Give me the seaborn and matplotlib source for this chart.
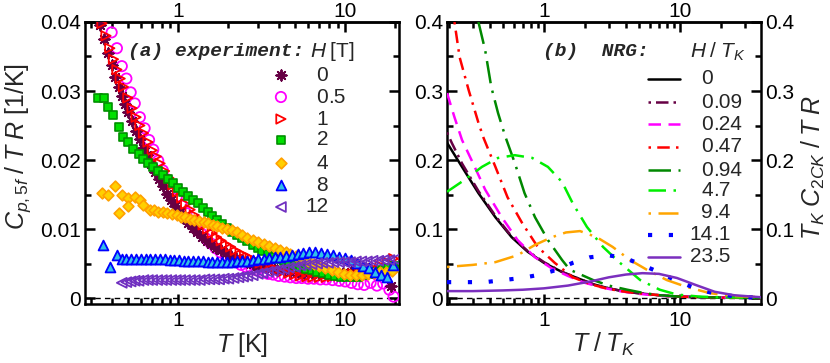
import matplotlib
matplotlib.use('Agg')
import matplotlib.pyplot as plt
import matplotlib.ticker as mticker
import seaborn as sns

# ---- experiment: C_p,5f / T R [1/K] vs T [K], one list pair per field H [T]
T_h0 = [0.34, 0.36, 0.38, 0.40, 0.42, 0.44, 0.46, 0.48, 0.50, 0.53, 0.56, 0.59, 0.62, 0.65, 0.69, 0.73,
        0.77, 0.81, 0.86, 0.91, 0.96, 1.02, 1.08, 1.15, 1.22, 1.30, 1.39, 1.48, 1.58, 1.69, 1.81, 1.94,
        2.08, 2.23, 2.40, 2.6, 2.8, 3.0, 3.3, 3.6, 3.9, 4.3, 4.7, 5.2, 5.7, 6.3, 7.0, 7.8, 8.7, 9.7,
        10.8, 12.0, 13.4, 15.0, 16.8, 18.8]
C_h0 = [0.0395, 0.0375, 0.0355, 0.0337, 0.0321, 0.0306, 0.0293, 0.0281, 0.0270, 0.0256, 0.0242, 0.0230,
        0.0218, 0.0207, 0.0194, 0.0182, 0.0172, 0.0162, 0.0151, 0.0142, 0.0133, 0.0124, 0.0116, 0.0108,
        0.0101, 0.0095, 0.0088, 0.0083, 0.0078, 0.0073, 0.0069, 0.0065, 0.0061, 0.0058, 0.0055, 0.0052,
        0.0049, 0.0047, 0.0045, 0.0043, 0.0041, 0.0040, 0.0038, 0.0037, 0.0036, 0.0036, 0.0035, 0.0035,
        0.0036, 0.0036, 0.0037, 0.0038, 0.0039, 0.0040, 0.0032, 0.0018]

T_h05 = [0.40, 0.43, 0.46, 0.49, 0.52, 0.55, 0.59, 0.63, 0.67, 0.71, 0.76, 0.81, 0.86, 0.92, 0.98, 1.05,
         1.12, 1.2, 1.28, 1.37, 1.47, 1.57, 1.68, 1.8, 1.93, 2.07, 2.22, 2.38, 2.55, 2.75, 2.95, 3.2,
         3.45, 3.7, 4.0, 4.35, 4.7, 5.1, 5.5, 6.0, 6.5, 7.1, 7.7, 8.4, 9.2, 10.0, 10.9, 11.9, 13.0,
         14.2, 15.5, 16.9, 18.4, 19.5]
C_h05 = [0.0385, 0.0362, 0.0336, 0.0318, 0.0298, 0.0282, 0.0262, 0.0246, 0.0229, 0.0215, 0.0199, 0.0185,
         0.0172, 0.0158, 0.0146, 0.0134, 0.0123, 0.0112, 0.0103, 0.0094, 0.0086, 0.0079, 0.0072, 0.0066,
         0.0061, 0.0056, 0.0052, 0.0048, 0.0045, 0.0042, 0.0040, 0.0037, 0.0035, 0.0034, 0.0032, 0.0031,
         0.0030, 0.0029, 0.0029, 0.0028, 0.0028, 0.0027, 0.0027, 0.0026, 0.0025, 0.0024, 0.0022, 0.0020,
         0.0019, 0.0022, 0.0018, 0.0021, 0.0012, 0.0002]

T_h1 = [0.35, 0.37, 0.39, 0.41, 0.43, 0.45, 0.47, 0.50, 0.53, 0.56, 0.59, 0.62, 0.66, 0.70, 0.74, 0.78,
        0.83, 0.88, 0.93, 0.99, 1.05, 1.11, 1.18, 1.25, 1.33, 1.41, 1.50, 1.60, 1.70, 1.81, 1.93, 2.06,
        2.2, 2.35, 2.5, 2.7, 2.9, 3.1, 3.35, 3.6, 3.9, 4.2, 4.6, 5.0, 5.4, 5.9, 6.4, 7.0, 7.7, 8.4,
        9.2, 10.1, 11.1, 12.2, 13.4, 14.7, 16.2, 17.8, 19.5]
C_h1 = [0.0398, 0.0380, 0.0362, 0.0346, 0.0331, 0.0318, 0.0306, 0.0290, 0.0275, 0.0262, 0.0250, 0.0239,
        0.0226, 0.0214, 0.0205, 0.0195, 0.0184, 0.0174, 0.0164, 0.0154, 0.0145, 0.0136, 0.0128, 0.0120,
        0.0113, 0.0106, 0.0100, 0.0094, 0.0088, 0.0083, 0.0078, 0.0074, 0.0069, 0.0065, 0.0062, 0.0058,
        0.0054, 0.0051, 0.0047, 0.0044, 0.0041, 0.0038, 0.0036, 0.0034, 0.0032, 0.0031, 0.0030, 0.0030,
        0.0030, 0.0031, 0.0032, 0.0033, 0.0035, 0.0037, 0.0040, 0.0043, 0.0047, 0.0052, 0.0057]

T_h2 = [0.33, 0.36, 0.38, 0.41, 0.44, 0.47, 0.50, 0.54, 0.58, 0.62, 0.66, 0.71, 0.76, 0.81, 0.87, 0.93,
        1.0, 1.07, 1.14, 1.22, 1.31, 1.40, 1.50, 1.60, 1.71, 1.83, 1.96, 2.1, 2.25, 2.4, 2.6, 2.8, 3.0,
        3.2, 3.45, 3.7, 4.0, 4.3, 4.6, 5.0, 5.4, 5.8, 6.3, 6.8, 7.4, 8.0, 8.7, 9.4, 10.2, 11.1, 12.0,
        13.0, 14.1, 15.3, 16.6, 18.0, 19.5]
C_h2 = [0.0290, 0.0290, 0.0277, 0.0265, 0.0248, 0.0233, 0.0226, 0.0216, 0.0208, 0.0202, 0.0196, 0.0190,
        0.0184, 0.0178, 0.0172, 0.0166, 0.0160, 0.0154, 0.0148, 0.0142, 0.0137, 0.0131, 0.0125, 0.0119,
        0.0113, 0.0107, 0.0101, 0.0096, 0.0091, 0.0087, 0.0082, 0.0077, 0.0072, 0.0068, 0.0064, 0.0060,
        0.0057, 0.0054, 0.0051, 0.0048, 0.0045, 0.0042, 0.0040, 0.0038, 0.0036, 0.0034, 0.0032, 0.0031,
        0.0030, 0.0030, 0.0031, 0.0033, 0.0035, 0.0038, 0.0041, 0.0044, 0.0046]

T_h4 = [0.35, 0.38, 0.42, 0.44, 0.46, 0.50, 0.50, 0.55, 0.59, 0.62, 0.68, 0.72, 0.76, 0.81, 0.86, 0.92,
        0.98, 1.04, 1.1, 1.17, 1.25, 1.33, 1.42, 1.51, 1.61, 1.72, 1.84, 1.96, 2.1, 2.25, 2.4, 2.6, 2.8,
        3.0, 3.25, 3.5, 3.8, 4.1, 4.4, 4.7, 5.1, 5.5, 6.0, 6.5, 7.0, 7.6, 8.3, 9.0, 9.8, 10.7, 11.6,
        12.6, 13.7, 14.9, 16.2, 17.6, 19.2]
C_h4 = [0.0152, 0.0149, 0.0162, 0.0123, 0.0149, 0.0145, 0.0133, 0.0146, 0.0142, 0.0135, 0.0128, 0.0127,
        0.0125, 0.0124, 0.0123, 0.0122, 0.0120, 0.0118, 0.0117, 0.0115, 0.0113, 0.0112, 0.0110, 0.0108,
        0.0106, 0.0104, 0.0102, 0.0100, 0.0099, 0.0095, 0.0091, 0.0087, 0.0084, 0.0081, 0.0078, 0.0075,
        0.0072, 0.0069, 0.0067, 0.0064, 0.0061, 0.0058, 0.0054, 0.0050, 0.0047, 0.0044, 0.0041, 0.0038,
        0.0035, 0.0033, 0.0033, 0.0034, 0.0035, 0.0036, 0.0037, 0.0038, 0.0039]

T_h8 = [0.355, 0.39, 0.43, 0.46, 0.49, 0.52, 0.56, 0.60, 0.64, 0.68, 0.73, 0.78, 0.83, 0.89, 0.95, 1.01,
        1.08, 1.15, 1.23, 1.31, 1.40, 1.50, 1.60, 1.71, 1.83, 1.96, 2.1, 2.25, 2.4, 2.6, 2.8, 3.0, 3.25,
        3.5, 3.8, 4.1, 4.4, 4.8, 5.2, 5.6, 6.1, 6.6, 7.2, 7.8, 8.5, 9.2, 10.0, 10.9, 11.8, 12.8, 13.9,
        15.1, 16.4, 17.8, 19.3]
C_h8 = [0.0077, 0.0045, 0.0062, 0.0056, 0.0057, 0.0057, 0.0057, 0.0057, 0.0057, 0.0056, 0.0056, 0.0056,
        0.0056, 0.0055, 0.0055, 0.0055, 0.0054, 0.0054, 0.0053, 0.0053, 0.0053, 0.0052, 0.0052, 0.0052,
        0.0052, 0.0052, 0.0052, 0.0053, 0.0053, 0.0054, 0.0055, 0.0056, 0.0057, 0.0058, 0.0059, 0.0060,
        0.0061, 0.0063, 0.0064, 0.0065, 0.0066, 0.0066, 0.0065, 0.0064, 0.0062, 0.0060, 0.0058, 0.0055,
        0.0051, 0.0047, 0.0043, 0.0038, 0.0033, 0.0030, 0.0048]

T_h12 = [0.46, 0.49, 0.52, 0.55, 0.58, 0.62, 0.66, 0.70, 0.75, 0.80, 0.85, 0.91, 0.97, 1.03, 1.10, 1.18,
         1.26, 1.35, 1.44, 1.54, 1.65, 1.76, 1.88, 2.0, 2.15, 2.3, 2.45, 2.6, 2.8, 3.0, 3.2, 3.45, 3.7,
         4.0, 4.3, 4.6, 5.0, 5.4, 5.8, 6.3, 6.8, 7.3, 7.9, 8.5, 9.2, 9.9, 10.7, 11.6, 12.5, 13.5, 14.6,
         15.8, 17.0, 18.4, 19.8]
C_h12 = [0.0022, 0.0023, 0.0024, 0.0025, 0.0025, 0.0026, 0.0026, 0.0026, 0.0026, 0.0026, 0.0026, 0.0026,
         0.0026, 0.0026, 0.0026, 0.0026, 0.0026, 0.0026, 0.0027, 0.0027, 0.0027, 0.0027, 0.0028, 0.0028,
         0.0029, 0.0030, 0.0031, 0.0032, 0.0033, 0.0035, 0.0036, 0.0038, 0.0039, 0.0041, 0.0042, 0.0044,
         0.0045, 0.0047, 0.0048, 0.0049, 0.0050, 0.0051, 0.0051, 0.0052, 0.0052, 0.0052, 0.0052, 0.0053,
         0.0053, 0.0053, 0.0054, 0.0054, 0.0055, 0.0055, 0.0056]

# ---- NRG: T_K C_2CK / T R vs T / T_K, one list pair per H / T_K
t_n0 = [0.194, 0.25, 0.33, 0.44, 0.58, 0.76, 1.0, 1.35, 1.7, 2.3, 3.0, 4.0, 5.5, 8.0, 12, 20, 40]
c_n0 = [0.225, 0.190, 0.152, 0.117, 0.088, 0.067, 0.051, 0.038, 0.030, 0.020, 0.014, 0.009, 0.006,
        0.003, 0.0015, 0.0005, 0.0001]
t_n009 = [0.194, 0.21, 0.25, 0.33, 0.44, 0.58, 0.76, 1.0, 1.35, 1.7, 2.3, 3.0, 4.0, 5.5, 8.0, 12, 20, 40]
c_n009 = [0.240, 0.225, 0.195, 0.155, 0.119, 0.089, 0.068, 0.052, 0.038, 0.030, 0.020, 0.014, 0.009,
          0.006, 0.003, 0.0015, 0.0005, 0.0001]
t_n024 = [0.194, 0.22, 0.25, 0.30, 0.37, 0.49, 0.64, 0.86, 1.14, 1.5, 2.0, 2.7, 3.6, 5.0, 7.0, 10, 15, 25, 40]
c_n024 = [0.297, 0.262, 0.229, 0.196, 0.157, 0.117, 0.084, 0.059, 0.043, 0.032, 0.022, 0.015, 0.010,
          0.006, 0.0035, 0.002, 0.001, 0.0004, 0.0001]
t_n047 = [0.22, 0.24, 0.28, 0.33, 0.36, 0.44, 0.54, 0.69, 0.90, 1.2, 1.63, 2.2, 3.0, 4.0, 5.5, 8, 12, 20, 40]
c_n047 = [0.400, 0.349, 0.301, 0.254, 0.232, 0.190, 0.146, 0.109, 0.074, 0.051, 0.030, 0.020, 0.013,
          0.009, 0.006, 0.003, 0.0015, 0.0005, 0.0001]
t_n094 = [0.33, 0.37, 0.41, 0.46, 0.52, 0.61, 0.72, 0.86, 1.07, 1.36, 1.55, 2.3, 3.0, 4.1, 5.5, 7.1, 10, 15, 25, 40]
c_n094 = [0.400, 0.359, 0.306, 0.268, 0.234, 0.196, 0.152, 0.117, 0.084, 0.055, 0.041, 0.026, 0.018,
          0.012, 0.007, 0.004, 0.002, 0.001, 0.0003, 0.0001]
t_n47 = [0.194, 0.26, 0.35, 0.46, 0.61, 0.82, 1.07, 1.36, 1.63, 2.07, 2.72, 3.62, 5.1, 7.1, 9.5, 14, 20, 40]
c_n47 = [0.154, 0.171, 0.190, 0.203, 0.207, 0.203, 0.190, 0.168, 0.137, 0.103, 0.074, 0.051, 0.026,
         0.012, 0.005, 0.002, 0.001, 0.0002]
t_n94 = [0.194, 0.30, 0.44, 0.64, 0.86, 1.14, 1.45, 1.84, 2.45, 3.2, 4.3, 5.7, 8.0, 11.2, 16.6, 24.5, 40]
c_n94 = [0.045, 0.048, 0.052, 0.062, 0.077, 0.088, 0.095, 0.097, 0.088, 0.074, 0.055, 0.041, 0.026,
         0.016, 0.007, 0.003, 0.001]
t_n141 = [0.194, 0.28, 0.37, 0.50, 0.69, 0.94, 1.25, 1.63, 2.18, 2.95, 3.94, 5.25, 6.9, 9.2, 12.3, 16, 21.5, 29, 40]
c_n141 = [0.023, 0.023, 0.023, 0.026, 0.029, 0.034, 0.041, 0.051, 0.059, 0.062, 0.058, 0.048, 0.038,
          0.026, 0.016, 0.009, 0.004, 0.0015, 0.0005]
t_n235 = [0.194, 0.3, 0.5, 0.7, 1.0, 1.5, 2.2, 3.0, 4.0, 5.3, 7.0, 9.5, 13, 18, 25, 40]
c_n235 = [0.010, 0.010, 0.011, 0.012, 0.014, 0.018, 0.024, 0.030, 0.034, 0.036, 0.035, 0.029, 0.019,
          0.009, 0.004, 0.001]

exp_labels = ['0', '0.5', '1', '2', '4', '8', '12']
nrg_labels = ['0', '0.09', '0.24', '0.47', '0.94', '4.7', '9.4', '14.1', '23.5']

sns.set_theme(style='ticks')
plt.rcParams['font.family'] = ['Liberation Sans', 'DejaVu Sans']
plt.rcParams['mathtext.fontset'] = 'custom'
plt.rcParams['mathtext.rm'] = 'Liberation Sans'
plt.rcParams['mathtext.it'] = 'Liberation Sans:italic'
plt.rcParams['axes.linewidth'] = 1.8

fig = plt.figure(figsize=(8.3, 3.63), dpi=100)
ax1 = fig.add_axes([0.1024, 0.1625, 0.3783, 0.7769])
ax2 = fig.add_axes([0.5386, 0.1625, 0.3783, 0.7769])

# marker styles for the experimental series (drawing order chosen to match overlap)
exp_series = [
    ('0.5', T_h05, C_h05, dict(marker='o', s=55, facecolor='none', edgecolor='#ff00ff', linewidth=1.3)),
    ('0', T_h0, C_h0, dict(marker=(8, 2, 0), s=55, color='#660044', linewidth=1.4)),
    ('1', T_h1, C_h1, dict(marker='>', s=45, facecolor='none', edgecolor='#ff0000', linewidth=1.3)),
    ('2', T_h2, C_h2, dict(marker='s', s=36, facecolor='#00e000', edgecolor='#009000', linewidth=1.2)),
    ('4', T_h4, C_h4, dict(marker='D', s=30, facecolor='#ffd000', edgecolor='#ffa000', linewidth=1.2)),
    ('8', T_h8, C_h8, dict(marker='^', s=50, facecolor='#30c0e8', edgecolor='#0000ff', linewidth=1.3)),
    ('12', T_h12, C_h12, dict(marker='<', s=50, facecolor='none', edgecolor='#7030c0', linewidth=1.3)),
]
for lab, xs, ys, kw in exp_series:
    sns.scatterplot(x=xs, y=ys, ax=ax1, zorder=3, **kw)

nrg_series = [
    ('0', t_n0, c_n0, dict(color='black', linestyle='-')),
    ('0.09', t_n009, c_n009, dict(color='#660044', linestyle=(0, (1, 2, 5, 2)))),
    ('0.24', t_n024, c_n024, dict(color='#ff00ff', linestyle=(0, (5, 3)))),
    ('0.47', t_n047, c_n047, dict(color='#ff0000', linestyle=(0, (1, 2.5, 5, 2.5)))),
    ('0.94', t_n094, c_n094, dict(color='#008800', linestyle=(0, (9, 3, 1, 3)))),
    ('4.7', t_n47, c_n47, dict(color='#00ee00', linestyle=(0, (7, 3, 1, 3)))),
    ('9.4', t_n94, c_n94, dict(color='#ffa500', linestyle=(0, (1, 3, 8, 3)))),
    ('14.1', t_n141, c_n141, dict(color='#0000ff', linestyle=(0, (1, 4)), linewidth=3.0)),
    ('23.5', t_n235, c_n235, dict(color='#7b2fbe', linestyle='-')),
]
for lab, xs, ys, kw in nrg_series:
    kw.setdefault('linewidth', 1.8)
    sns.lineplot(x=xs, y=ys, ax=ax2, sort=False, estimator=None, zorder=3, **kw)

ax1.set_xlim(0.277, 21.0)
ax1.set_ylim(-0.00087, 0.04)
ax2.set_xlim(0.194, 39.4)
ax2.set_ylim(-0.0087, 0.4)


def log_ticks(axis):
    axis.set_major_locator(mticker.FixedLocator([1, 10]))
    axis.set_major_formatter(mticker.FixedFormatter(['1', '10']))
    axis.set_minor_locator(mticker.LogLocator(base=10, subs=range(2, 10), numticks=20))
    axis.set_minor_formatter(mticker.NullFormatter())


# axes formatting
for ax in (ax1, ax2):
    ax.set_xscale('log')
    ax.axhline(0, color='black', linestyle=(0, (4, 3)), linewidth=1.0, zorder=1)
    log_ticks(ax.xaxis)
    ax.tick_params(which='both', direction='in', top=False, right=True,
                   labelsize=15, width=1.8, colors='black')
    ax.tick_params(which='major', length=7, pad=5)
    ax.tick_params(which='minor', length=4)
    ax.tick_params(axis='y', pad=3)
    for sp in ax.spines.values():
        sp.set_color('black')
    # top axis with its own (tighter) label pad
    top = ax.secondary_xaxis('top')
    log_ticks(top.xaxis)
    top.tick_params(which='both', direction='in', labelsize=15, width=1.8, colors='black')
    top.tick_params(which='major', length=7, pad=0.5)
    top.tick_params(which='minor', length=4)
    top.spines['top'].set_linewidth(1.8)

ax1.yaxis.set_major_locator(mticker.FixedLocator([0, 0.01, 0.02, 0.03, 0.04]))
ax1.yaxis.set_major_formatter(mticker.FixedFormatter(['0', '0.01', '0.02', '0.03', '0.04']))
ax1.yaxis.set_minor_locator(mticker.MultipleLocator(0.005))

ax2.yaxis.set_major_locator(mticker.FixedLocator([0, 0.1, 0.2, 0.3, 0.4]))
ax2.yaxis.set_major_formatter(mticker.FixedFormatter(['0', '0.1', '0.2', '0.3', '0.4']))
ax2.yaxis.set_minor_locator(mticker.MultipleLocator(0.05))
ax2.tick_params(axis='y', labelleft=True, labelright=True)

ax1.set_xlabel(r'$T\;$[K]', fontsize=18)
ax1.xaxis.set_label_coords(0.5, -0.095)
ax1.set_ylabel(r'$C_{p,5f}\;/\;T\;R$ [1/K]', fontsize=18)
ax1.yaxis.set_label_coords(-0.166, 0.56)

ax2.set_xlabel(r'$T\;/\;T_K$', fontsize=18)
ax2.xaxis.set_label_coords(0.5, -0.095)
ax2.set_ylabel(r'$T_K\;C_{2CK}\;/\;T\;R$', fontsize=18)
ax2.yaxis.set_label_position('right')
ax2.yaxis.set_label_coords(1.124, 0.485)

# hand-placed legends with decimal-aligned labels
mono = dict(family='Liberation Mono', weight='bold', style='italic', fontsize=14)
ax1.text(0.137, 0.894, '(a) experiment:', transform=ax1.transAxes, va='center', ha='left', **mono)
ax1.text(0.717, 0.894, r'$H\;$[T]', transform=ax1.transAxes, va='center', ha='left', fontsize=15)

exp_rows = [0.812, 0.734, 0.656, 0.582, 0.500, 0.422, 0.344]
exp_kw = {lab: kw for lab, xs, ys, kw in exp_series}
for lab, yy in zip(exp_labels, exp_rows):
    kw = dict(exp_kw[lab])
    ax1.scatter([0.624], [yy], transform=ax1.transAxes, clip_on=False, zorder=5, **kw)
    ip, _, fp = lab.partition('.')
    ax1.text(0.774, yy, ip, transform=ax1.transAxes, ha='right', va='center', fontsize=15)
    if fp:
        ax1.text(0.774, yy, '.' + fp, transform=ax1.transAxes, ha='left', va='center', fontsize=15)

ax2.text(0.306, 0.894, '(b)  NRG:', transform=ax2.transAxes, va='center', ha='left', **mono)
ax2.text(0.775, 0.894, r'$H\;/\;T_K$', transform=ax2.transAxes, va='center', ha='left', fontsize=15)

nrg_rows = [0.798, 0.716, 0.638, 0.557, 0.475, 0.404, 0.323, 0.245, 0.167]
nrg_kw = {lab: kw for lab, xs, ys, kw in nrg_series}
for lab, yy in zip(nrg_labels, nrg_rows):
    kw = nrg_kw[lab]
    ax2.plot([0.640, 0.742], [yy, yy], transform=ax2.transAxes, clip_on=False, zorder=5,
             color=kw['color'], linestyle=kw['linestyle'], linewidth=kw['linewidth'])
    ip, _, fp = lab.partition('.')
    ax2.text(0.847, yy, ip, transform=ax2.transAxes, ha='right', va='center', fontsize=15)
    if fp:
        ax2.text(0.847, yy, '.' + fp, transform=ax2.transAxes, ha='left', va='center', fontsize=15)

fig.savefig('out.png', dpi=100)
